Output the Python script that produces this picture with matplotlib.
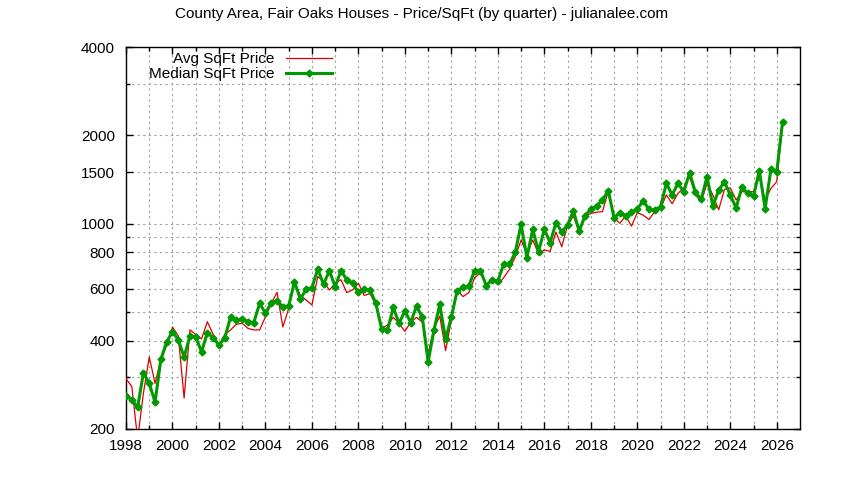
import numpy as np
import matplotlib
matplotlib.use("Agg")
import matplotlib.pyplot as plt
from matplotlib.lines import Line2D
from matplotlib.ticker import FixedLocator, NullFormatter

plt.rcParams['font.family'] = ['Liberation Sans', 'DejaVu Sans']

start_year = 1998.0
median_price = [
    260,251,237,311,286,247,345,396,429,402,352,415,412,366,426,409,386,408,482,470,474,464,461,536,496,538,546,521,
    526,635,554,598,606,701,622,693,610,693,644,627,584,598,595,536,438,434,519,458,505,461,524,480,339,434,531,405,482,592,
    607,614,693,693,616,644,639,728,728,800,995,767,957,804,957,862,1008,940,990,1106,944,1065,1122,1150,1205,
    1296,1049,1091,1063,1093,1122,1198,1120,1116,1143,1373,1254,1373,1286,1493,1280,1214,1446,1150,1300,1391,1254,1132,1331,1270,1242,1517,1127,1536,1504,2226,
]
avg_price = [
    297,279,185,265,352,286,345,385,445,415,255,435,420,405,464,420,386,420,435,455,458,440,435,435,482,536,584,445,
    515,630,570,550,529,661,635,595,627,645,583,595,627,570,578,529,440,452,480,458,430,462,480,462,362,440,485,370,470,595,
    565,583,655,680,620,644,620,655,700,772,880,790,880,790,815,805,937,835,990,1063,940,1058,1084,1095,1100,
    1290,1045,1004,1063,982,1091,1070,1034,1100,1127,1254,1170,1270,1325,1446,1254,1190,1373,1254,1116,1310,1325,1205,1286,1286,1286,1446,1205,1320,1391,2226,
]
quarters = start_year + 0.25 * np.arange(len(median_price))

y_ticks = [200, 400, 600, 800, 1000, 1500, 2000, 4000]
y_grid = [200, 300, 400, 500, 600, 700, 800, 900, 1000, 1500, 2000, 3000, 4000]
x_labels = list(range(1998, 2027, 2))

fig = plt.figure(figsize=(8.44, 4.8), dpi=100)
ax = fig.add_axes([126/844, 51/480, 674/844, 382/480])

red = '#dd0000'
green = '#009900'
ax.plot(quarters, avg_price, color=red, lw=0.9, zorder=3)
ax.plot(quarters, median_price, color=green, lw=2.2, marker='D', ms=3.5, zorder=4)

ax.set_yscale('log')
ax.set_ylim(200, 4000)
ax.set_xlim(1998, 2027)
ax.yaxis.set_major_locator(FixedLocator(y_ticks))
ax.yaxis.set_minor_locator(FixedLocator([v for v in y_grid if v not in y_ticks]))
ax.yaxis.set_major_formatter(matplotlib.ticker.FixedFormatter([str(v) for v in y_ticks]))
ax.yaxis.set_minor_formatter(NullFormatter())
ax.set_xticks(x_labels)
ax.set_xticks(range(1999, 2027, 2), minor=True)

for v in y_grid:
    ax.axhline(v, color='#a0a0a0', ls=(0, (2, 3)), lw=0.8, zorder=1)
for yr in range(1999, 2027):
    ax.axvline(yr, color='#a0a0a0', ls=(0, (2, 3)), lw=0.8, zorder=1)

ax.tick_params(which='both', direction='in', top=True, right=True, labelsize=11, length=5, width=1, colors='black')
ax.tick_params(which='minor', length=3)
ax.tick_params(axis='x', pad=7)
ax.tick_params(axis='y', pad=8)
for s in ax.spines.values():
    s.set_linewidth(1)

handles = [Line2D([], [], color=red, lw=0.9),
           Line2D([], [], color=green, lw=2.2, marker='D', ms=3.5)]
ax.legend(handles, ['Avg SqFt Price', 'Median SqFt Price'], loc='upper left',
          bbox_to_anchor=(0.02, 1.01), frameon=False, markerfirst=False,
          fontsize=11, handlelength=3, labelspacing=0.05, borderaxespad=0.2)

fig.text(0.5, 1 - 14/480, 'County Area, Fair Oaks Houses - Price/SqFt (by quarter) - julianalee.com',
         ha='center', va='center', fontsize=11)

fig.savefig('out.png', dpi=100)
